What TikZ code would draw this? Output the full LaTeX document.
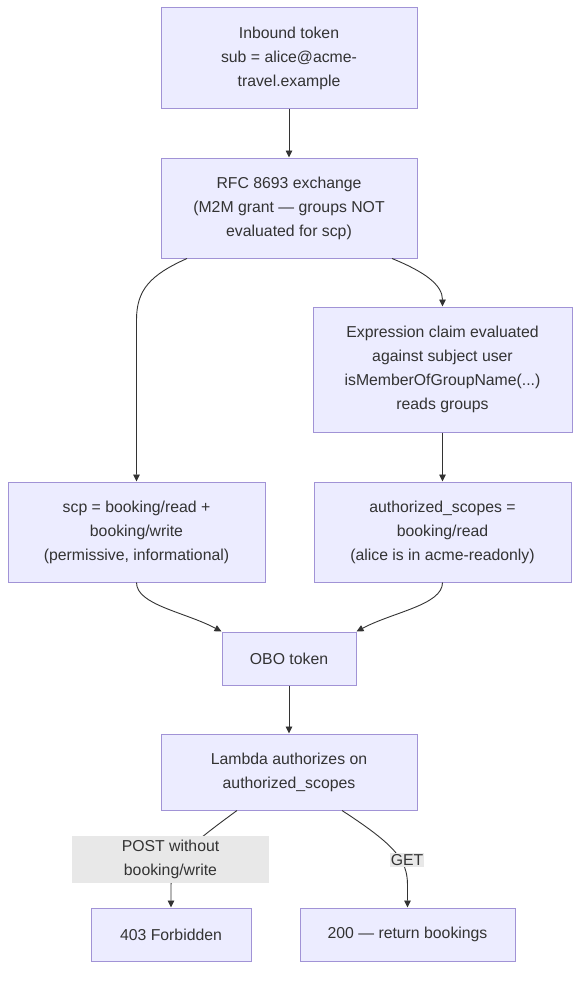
\documentclass[tikz,border=0pt]{standalone}
\usepackage{fontspec}
\setmainfont{Liberation Sans}
\usetikzlibrary{arrows.meta,calc}
\definecolor{boxfill}{HTML}{ECECFF}
\definecolor{boxborder}{HTML}{A193D6}
\definecolor{edgec}{HTML}{333333}
\definecolor{txt}{HTML}{333333}
\definecolor{lblbg}{HTML}{E8E8E8}
\begin{document}
\begin{tikzpicture}[x=1pt,y=-1pt,
  box/.style={draw=boxborder, fill=boxfill, line width=1pt, inner sep=0pt, align=center,
    font=\fontsize{15.8}{24}\selectfont, text=txt},
  edge/.style={draw=edgec, line width=0.9pt, -{Triangle[length=7pt,width=6.5pt]}},
  lbl/.style={fill=lblbg, inner sep=1pt, align=center, font=\fontsize{15.8}{24}\selectfont, text=txt}]
\useasboundingbox[fill=white] (0,0) rectangle (588,982);

\node[box, minimum width=256, minimum height=100] (inb) at (289,58) {Inbound token\\sub = alice@acme-\\travel.example};
\node[box, minimum width=256, minimum height=100] (rfc) at (289,208) {RFC 8693 exchange\\(M2M grant — groups NOT\\evaluated for scp)};
\node[box, minimum width=259, minimum height=125] (expr) at (442.5,369.5) {Expression claim evaluated\\against subject user\\isMemberOfGroupName(...)\\reads groups};
\node[box, minimum width=257, minimum height=100] (scp) at (136.5,532) {scp = booking/read +\\booking/write\\(permissive, informational)};
\node[box, minimum width=257, minimum height=100] (auth) at (442.5,532) {authorized\_scopes =\\booking/read\\(alice is in acme-readonly)};
\node[box, minimum width=134, minimum height=53] (obo) at (289,658.5) {OBO token};
\node[box, minimum width=256, minimum height=76] (lam) at (289,772) {Lambda authorizes on\\authorized\_scopes};
\node[box, minimum width=160, minimum height=53] (forb) at (171,934.5) {403 Forbidden};
\node[box, minimum width=215, minimum height=53] (ok) at (407.5,934.5) {200 — return bookings};

\draw[edge] (inb) -- (rfc);
\draw[edge] ($(rfc.south)+(-102,0)$) .. controls (150,275) and (136.5,290) .. (136.5,320) -- (scp.north);
\draw[edge] ($(rfc.south)+(103,0)$) .. controls (425,272) and (442.5,285) .. (expr.north);
\draw[edge] (expr) -- (auth);
\draw[edge] (scp.south) .. controls (136.5,605) and (185,612) .. (obo.north west);
\draw[edge] (auth.south) .. controls (442.5,605) and (393,612) .. (obo.north east);
\draw[edge] (obo) -- (lam);
\draw[edge] ($(lam.south)+(-52,0)$) .. controls (190,845) and (171,860) .. (171,885) -- (forb.north);
\draw[edge] ($(lam.south)+(53,0)$) .. controls (395,845) and (407.5,860) .. (407.5,885) -- (ok.north);

\node[lbl, minimum width=197, minimum height=47, inner sep=0pt] (lpost) at (170.5,859.5) {POST without\\booking/write};
\node[lbl] (lget) at (407,860) {GET};
\end{tikzpicture}
\end{document}
